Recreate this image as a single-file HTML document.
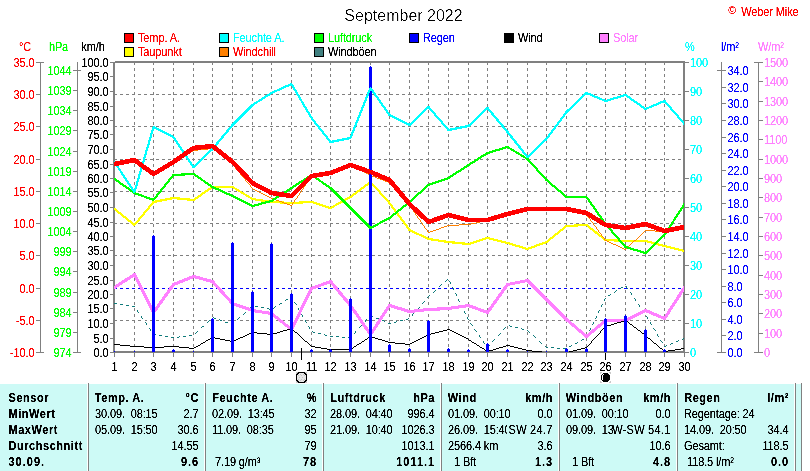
<!DOCTYPE html>
<html lang="de"><head><meta charset="utf-8"><title>September 2022</title>
<style>
html,body{margin:0;padding:0;background:#fff;}
body{width:810px;height:471px;overflow:hidden;}
svg{display:block;font-family:"Liberation Sans",sans-serif;font-size:11px;}
.g{stroke:#808080;stroke-width:1;fill:none;}
.b{font-weight:bold;letter-spacing:0.55px;}
.r{letter-spacing:-0.12px;}
.e{text-anchor:end;}
.m{text-anchor:middle;}
text{filter:url(#t);}
</style></head><body>
<svg width="810" height="471" viewBox="0 0 810 471" shape-rendering="crispEdges">
<defs>
<filter id="t" x="-5%" y="-20%" width="110%" height="140%" color-interpolation-filters="sRGB"><feComponentTransfer><feFuncA type="table" tableValues="0 0 0.3 0.85 1 1 1"/></feComponentTransfer></filter>
<filter id="t2" x="-5%" y="-20%" width="110%" height="140%" color-interpolation-filters="sRGB"><feComponentTransfer><feFuncA type="table" tableValues="0 0 0 0 0.2 0.8 1 1"/></feComponentTransfer></filter>
<clipPath id="c"><rect x="114" y="62" width="570" height="290"/></clipPath>
</defs>
<rect x="0" y="0" width="810" height="471" fill="#ffffff"/>
<text x="403.5" y="21" class="m" fill="#000" font-size="16" style="filter:url(#t2)">September 2022</text>
<text x="728.3" y="14.3" fill="#ff0000" font-size="10.5">©</text>
<text transform="translate(798.5 16) scale(1 1.1)" class="e r" fill="#ff0000">Weber Mike</text>
<rect x="124.5" y="33.5" width="9" height="9" fill="#ff0000" stroke="#000" stroke-width="1"/>
<text transform="translate(138 42) scale(1 1.1)" class="r" fill="#ff0000">Temp. A.</text>
<rect x="124.5" y="47.5" width="9" height="9" fill="#ffff00" stroke="#000" stroke-width="1"/>
<text transform="translate(138 56) scale(1 1.1)" class="r" fill="#ff0000">Taupunkt</text>
<rect x="219.5" y="33.5" width="9" height="9" fill="#00ffff" stroke="#000" stroke-width="1"/>
<text transform="translate(233 42) scale(1 1.1)" class="r" fill="#00ffff">Feuchte A.</text>
<rect x="219.5" y="47.5" width="9" height="9" fill="#ff8000" stroke="#000" stroke-width="1"/>
<text transform="translate(233 56) scale(1 1.1)" class="r" fill="#ff0000">Windchill</text>
<rect x="314.5" y="33.5" width="9" height="9" fill="#00ff00" stroke="#000" stroke-width="1"/>
<text transform="translate(328 42) scale(1 1.1)" class="r" fill="#00ff00">Luftdruck</text>
<rect x="314.5" y="47.5" width="9" height="9" fill="#408080" stroke="#000" stroke-width="1"/>
<text transform="translate(328 56) scale(1 1.1)" class="r" fill="#000000">Windböen</text>
<rect x="409.5" y="33.5" width="9" height="9" fill="#0000ff" stroke="#000" stroke-width="1"/>
<text transform="translate(423 42) scale(1 1.1)" class="r" fill="#0000ff">Regen</text>
<rect x="504.5" y="33.5" width="9" height="9" fill="#000000" stroke="#000" stroke-width="1"/>
<text transform="translate(518 42) scale(1 1.1)" class="r" fill="#000000">Wind</text>
<rect x="599.5" y="33.5" width="9" height="9" fill="#ff80ff" stroke="#000" stroke-width="1"/>
<text transform="translate(613 42) scale(1 1.1)" class="r" fill="#ff80ff">Solar</text>
<g class="g" stroke-dasharray="3 3">
<line x1="134.5" y1="62" x2="134.5" y2="351"/>
<line x1="153.5" y1="62" x2="153.5" y2="351"/>
<line x1="173.5" y1="62" x2="173.5" y2="351"/>
<line x1="193.5" y1="62" x2="193.5" y2="351"/>
<line x1="212.5" y1="62" x2="212.5" y2="351"/>
<line x1="232.5" y1="62" x2="232.5" y2="351"/>
<line x1="252.5" y1="62" x2="252.5" y2="351"/>
<line x1="271.5" y1="62" x2="271.5" y2="351"/>
<line x1="291.5" y1="62" x2="291.5" y2="351"/>
<line x1="311.5" y1="62" x2="311.5" y2="351"/>
<line x1="330.5" y1="62" x2="330.5" y2="351"/>
<line x1="350.5" y1="62" x2="350.5" y2="351"/>
<line x1="370.5" y1="62" x2="370.5" y2="351"/>
<line x1="389.5" y1="62" x2="389.5" y2="351"/>
<line x1="409.5" y1="62" x2="409.5" y2="351"/>
<line x1="428.5" y1="62" x2="428.5" y2="351"/>
<line x1="448.5" y1="62" x2="448.5" y2="351"/>
<line x1="468.5" y1="62" x2="468.5" y2="351"/>
<line x1="487.5" y1="62" x2="487.5" y2="351"/>
<line x1="507.5" y1="62" x2="507.5" y2="351"/>
<line x1="527.5" y1="62" x2="527.5" y2="351"/>
<line x1="546.5" y1="62" x2="546.5" y2="351"/>
<line x1="566.5" y1="62" x2="566.5" y2="351"/>
<line x1="586.5" y1="62" x2="586.5" y2="351"/>
<line x1="605.5" y1="62" x2="605.5" y2="351"/>
<line x1="625.5" y1="62" x2="625.5" y2="351"/>
<line x1="645.5" y1="62" x2="645.5" y2="351"/>
<line x1="664.5" y1="62" x2="664.5" y2="351"/>
<line x1="114" y1="94.5" x2="683" y2="94.5"/>
<line x1="114" y1="126.5" x2="683" y2="126.5"/>
<line x1="114" y1="159.5" x2="683" y2="159.5"/>
<line x1="114" y1="191.5" x2="683" y2="191.5"/>
<line x1="114" y1="223.5" x2="683" y2="223.5"/>
<line x1="114" y1="255.5" x2="683" y2="255.5"/>
<line x1="114" y1="320.5" x2="683" y2="320.5"/>
</g>
<line x1="114" y1="288.5" x2="683" y2="288.5" stroke="#0000ff" stroke-width="1" stroke-dasharray="3 3"/>
<g fill="#808080">
<rect x="113" y="62" width="2" height="291"/>
<rect x="115" y="61" width="570" height="1"/>
<rect x="113" y="62" width="572" height="1"/>
<rect x="683" y="61" width="2" height="292"/>
<rect x="113" y="351" width="572" height="2"/>
</g>
<g clip-path="url(#c)" fill="none" stroke-linejoin="round" stroke-linecap="round">
<path d="M448 278.5h1M448 279.5h1M449 280.5h1M444 282.5h1M442 283.5h2M451 284.5h1M451 285.5h1M625 285.5h1M452 286.5h1M623 286.5h2M438 287.5h1M437 288.5h1M436 289.5h1M618 289.5h2M628 289.5h1M454 290.5h1M617 290.5h1M628 290.5h1M454 291.5h1M629 291.5h1M432 292.5h1M455 292.5h1M613 292.5h1M431 293.5h1M611 293.5h2M430 294.5h1M632 295.5h1M457 296.5h1M606 296.5h2M633 296.5h1M289 297.5h2M457 297.5h1M605 297.5h1M633 297.5h1M288 298.5h1M426 298.5h1M458 298.5h1M293 299.5h1M425 299.5h1M293 300.5h1M425 300.5h1M283 301.5h2M294 301.5h1M603 301.5h1M636 301.5h1M282 302.5h1M459 302.5h1M603 302.5h1M637 302.5h1M117 303.5h1M460 303.5h1M602 303.5h1M637 303.5h1M118 304.5h2M123 304.5h2M278 304.5h1M421 304.5h1M460 304.5h1M125 305.5h1M129 305.5h2M252 305.5h3M277 305.5h1M296 305.5h1M420 305.5h1M131 306.5h1M258 306.5h2M276 306.5h1M297 306.5h1M419 306.5h1M135 307.5h1M260 307.5h1M297 307.5h1M600 307.5h1M640 307.5h1M135 308.5h1M264 308.5h3M272 308.5h1M462 308.5h1M600 308.5h1M641 308.5h1M136 309.5h1M248 309.5h1M270 309.5h2M463 309.5h1M599 309.5h1M642 309.5h1M247 310.5h1M416 310.5h1M463 310.5h1M246 311.5h1M300 311.5h1M415 311.5h1M300 312.5h1M414 312.5h1M139 313.5h1M301 313.5h1M597 313.5h1M644 313.5h1M139 314.5h1M465 314.5h1M597 314.5h1M645 314.5h1M140 315.5h1M241 315.5h2M466 315.5h1M596 315.5h1M646 315.5h1M240 316.5h1M369 316.5h1M373 316.5h1M411 316.5h1M466 316.5h1M212 317.5h1M303 317.5h1M368 317.5h1M374 317.5h2M410 317.5h1M211 318.5h1M216 318.5h1M304 318.5h1M367 318.5h1M409 318.5h1M143 319.5h1M210 319.5h1M217 319.5h2M304 319.5h1M379 319.5h2M404 319.5h2M595 319.5h1M648 319.5h1M144 320.5h1M222 320.5h1M236 320.5h1M381 320.5h1M403 320.5h1M468 320.5h1M594 320.5h1M649 320.5h1M144 321.5h1M223 321.5h2M235 321.5h1M385 321.5h1M397 321.5h3M469 321.5h1M594 321.5h1M649 321.5h1M234 322.5h1M364 322.5h1M386 322.5h2M392 322.5h2M469 322.5h1M206 323.5h1M228 323.5h3M306 323.5h1M363 323.5h1M391 323.5h1M205 324.5h1M307 324.5h1M362 324.5h1M147 325.5h1M204 325.5h1M308 325.5h1M507 325.5h2M592 325.5h1M652 325.5h1M148 326.5h1M472 326.5h1M506 326.5h1M512 326.5h2M591 326.5h1M652 326.5h1M148 327.5h1M473 327.5h1M514 327.5h1M591 327.5h1M653 327.5h1M200 328.5h1M358 328.5h1M474 328.5h1M518 328.5h3M199 329.5h1M310 329.5h1M357 329.5h1M524 329.5h2M198 330.5h1M310 330.5h1M356 330.5h1M502 330.5h1M526 330.5h1M151 331.5h1M311 331.5h1M502 331.5h1M589 331.5h1M655 331.5h1M152 332.5h1M315 332.5h2M476 332.5h1M501 332.5h1M588 332.5h1M656 332.5h1M152 333.5h1M317 333.5h1M477 333.5h1M530 333.5h1M588 333.5h1M656 333.5h1M156 334.5h1M194 334.5h1M321 334.5h3M353 334.5h1M478 334.5h1M531 334.5h2M157 335.5h2M162 335.5h2M192 335.5h2M327 335.5h2M352 335.5h1M164 336.5h1M168 336.5h2M180 336.5h3M186 336.5h3M329 336.5h1M333 336.5h3M339 336.5h2M351 336.5h1M497 336.5h1M170 337.5h1M174 337.5h3M341 337.5h1M345 337.5h3M496 337.5h1M586 337.5h1M659 337.5h1M481 338.5h1M495 338.5h1M536 338.5h1M584 338.5h2M659 338.5h1M481 339.5h1M537 339.5h1M660 339.5h1M681 339.5h1M482 340.5h1M538 340.5h1M580 340.5h1M679 340.5h2M578 341.5h2M492 342.5h1M673 342.5h3M491 343.5h1M542 343.5h1M662 343.5h1M485 344.5h1M490 344.5h1M543 344.5h1M573 344.5h2M663 344.5h1M668 344.5h2M486 345.5h1M544 345.5h1M572 345.5h1M663 345.5h1M667 345.5h1M486 346.5h1M548 347.5h3M554 347.5h3M567 347.5h2M560 348.5h3M566 348.5h1" stroke="#ffffff" stroke-width="1" stroke-linecap="butt"/>
<path d="M447 279.5h1M446 280.5h1M445 281.5h1M449 281.5h1M450 282.5h1M450 283.5h1M441 284.5h1M440 285.5h1M439 286.5h1M626 286.5h1M452 287.5h1M621 287.5h2M626 287.5h1M453 288.5h1M620 288.5h1M627 288.5h1M453 289.5h1M435 290.5h1M616 290.5h1M434 291.5h1M615 291.5h1M433 292.5h1M614 292.5h1M630 292.5h1M455 293.5h1M631 293.5h1M456 294.5h1M610 294.5h1M631 294.5h1M429 295.5h1M456 295.5h1M608 295.5h2M291 296.5h1M428 296.5h1M292 297.5h1M427 297.5h1M292 298.5h1M605 298.5h1M634 298.5h1M286 299.5h2M458 299.5h1M604 299.5h1M635 299.5h1M285 300.5h1M458 300.5h1M604 300.5h1M635 300.5h1M424 301.5h1M459 301.5h1M294 302.5h1M423 302.5h1M114 303.5h3M280 303.5h2M295 303.5h1M422 303.5h1M120 304.5h3M279 304.5h1M296 304.5h1M602 304.5h1M638 304.5h1M126 305.5h3M461 305.5h1M601 305.5h1M639 305.5h1M132 306.5h3M251 306.5h1M255 306.5h3M275 306.5h1M461 306.5h1M601 306.5h1M639 306.5h1M250 307.5h1M261 307.5h3M274 307.5h1M419 307.5h1M462 307.5h1M249 308.5h1M267 308.5h2M273 308.5h1M298 308.5h1M418 308.5h1M269 309.5h1M298 309.5h1M417 309.5h1M137 310.5h1M299 310.5h1M599 310.5h1M642 310.5h1M137 311.5h1M464 311.5h1M598 311.5h1M643 311.5h1M138 312.5h1M245 312.5h1M464 312.5h1M598 312.5h1M644 312.5h1M244 313.5h1M413 313.5h1M465 313.5h1M243 314.5h1M301 314.5h1M412 314.5h1M302 315.5h1M370 315.5h2M412 315.5h1M141 316.5h1M302 316.5h1M372 316.5h1M596 316.5h1M646 316.5h1M141 317.5h1M213 317.5h1M239 317.5h1M467 317.5h1M596 317.5h1M647 317.5h1M142 318.5h1M214 318.5h2M238 318.5h1M376 318.5h3M408 318.5h1M467 318.5h1M595 318.5h1M647 318.5h1M219 319.5h1M237 319.5h1M366 319.5h1M406 319.5h2M468 319.5h1M209 320.5h1M220 320.5h2M305 320.5h1M365 320.5h1M382 320.5h2M400 320.5h3M208 321.5h1M305 321.5h1M365 321.5h1M384 321.5h1M396 321.5h1M145 322.5h1M207 322.5h1M225 322.5h3M306 322.5h1M394 322.5h2M593 322.5h1M650 322.5h1M146 323.5h1M233 323.5h1M388 323.5h3M470 323.5h1M593 323.5h1M650 323.5h1M146 324.5h1M231 324.5h2M471 324.5h1M592 324.5h1M651 324.5h1M361 325.5h1M472 325.5h1M509 325.5h1M202 326.5h2M308 326.5h1M360 326.5h1M510 326.5h2M201 327.5h1M309 327.5h1M359 327.5h1M505 327.5h1M515 327.5h3M149 328.5h1M309 328.5h1M504 328.5h1M521 328.5h1M590 328.5h1M653 328.5h1M150 329.5h1M474 329.5h1M503 329.5h1M522 329.5h2M590 329.5h1M654 329.5h1M150 330.5h1M475 330.5h1M527 330.5h1M589 330.5h1M655 330.5h1M197 331.5h1M312 331.5h1M355 331.5h1M476 331.5h1M528 331.5h1M196 332.5h1M313 332.5h2M355 332.5h1M529 332.5h1M195 333.5h1M318 333.5h3M354 333.5h1M500 333.5h1M153 334.5h3M324 334.5h1M499 334.5h1M587 334.5h1M657 334.5h1M159 335.5h3M189 335.5h3M325 335.5h2M479 335.5h1M498 335.5h1M533 335.5h1M587 335.5h1M657 335.5h1M165 336.5h3M179 336.5h1M183 336.5h3M330 336.5h3M336 336.5h3M479 336.5h1M534 336.5h1M586 336.5h1M658 336.5h1M171 337.5h3M177 337.5h2M342 337.5h3M348 337.5h3M480 337.5h1M535 337.5h1M683 338.5h2M494 339.5h1M582 339.5h2M682 339.5h1M493 340.5h1M581 340.5h1M660 340.5h1M678 340.5h1M483 341.5h1M492 341.5h1M539 341.5h1M661 341.5h1M676 341.5h2M483 342.5h1M540 342.5h1M577 342.5h1M662 342.5h1M484 343.5h1M541 343.5h1M575 343.5h2M671 343.5h2M670 344.5h1M489 345.5h1M571 345.5h1M666 345.5h1M488 346.5h1M545 346.5h1M569 346.5h2M664 346.5h2M487 347.5h1M546 347.5h2M551 347.5h3M557 348.5h3M563 348.5h3" stroke="#0f7a7a" stroke-width="1" stroke-linecap="butt"/>
<polyline points="114.5,287.5 134.5,274.5 153.5,312.5 173.5,284.5 193.5,276.5 212.5,281.5 232.5,303.5 252.5,310.5 271.5,313.5 291.5,329.5 311.5,288.5 330.5,281.5 350.5,305.5 370.5,334.5 389.5,305.5 409.5,311.5 428.5,309.5 448.5,308.5 468.5,305.5 487.5,312.5 507.5,284.5 527.5,280.5 546.5,299.5 566.5,319.5 586.5,336.5 605.5,320.5 625.5,320.5 645.5,310.5 664.5,318.5 684.5,287.5" stroke="#ff80ff" stroke-width="3.1"/>
<path d="M624 320.5h2M621 321.5h3M626 321.5h2M617 322.5h4M628 322.5h1M614 323.5h3M629 323.5h1M611 324.5h3M630 324.5h2M607 325.5h4M632 325.5h1M605 326.5h2M633 326.5h1M604 327.5h1M634 327.5h2M290 328.5h2M603 328.5h1M636 328.5h1M287 329.5h3M292 329.5h1M447 329.5h3M602 329.5h1M637 329.5h1M283 330.5h4M293 330.5h1M443 330.5h4M450 330.5h2M601 330.5h1M638 330.5h2M280 331.5h3M294 331.5h1M439 331.5h4M452 331.5h2M600 331.5h1M640 331.5h1M251 332.5h6M277 332.5h3M295 332.5h2M435 332.5h4M454 332.5h2M600 332.5h1M641 332.5h1M249 333.5h2M257 333.5h10M273 333.5h4M297 333.5h1M431 333.5h4M456 333.5h2M599 333.5h1M642 333.5h2M247 334.5h2M267 334.5h6M298 334.5h1M428 334.5h3M458 334.5h2M598 334.5h1M644 334.5h1M245 335.5h2M299 335.5h1M426 335.5h2M460 335.5h2M597 335.5h1M645 335.5h1M243 336.5h2M300 336.5h1M370 336.5h2M424 336.5h2M462 336.5h2M596 336.5h1M646 336.5h1M212 337.5h3M240 337.5h3M301 337.5h1M368 337.5h2M372 337.5h3M422 337.5h2M464 337.5h2M595 337.5h1M647 337.5h1M210 338.5h2M215 338.5h5M238 338.5h2M302 338.5h1M367 338.5h1M375 338.5h3M420 338.5h2M466 338.5h2M594 338.5h1M648 338.5h2M208 339.5h2M220 339.5h5M236 339.5h2M303 339.5h1M365 339.5h2M378 339.5h4M418 339.5h2M468 339.5h1M593 339.5h1M650 339.5h1M206 340.5h2M225 340.5h5M234 340.5h2M304 340.5h1M364 340.5h1M382 340.5h3M416 340.5h2M469 340.5h2M592 340.5h1M651 340.5h1M205 341.5h1M230 341.5h4M305 341.5h2M362 341.5h2M385 341.5h3M414 341.5h2M471 341.5h1M591 341.5h1M652 341.5h1M203 342.5h2M307 342.5h1M361 342.5h1M388 342.5h7M412 342.5h2M472 342.5h2M591 342.5h1M653 342.5h1M201 343.5h2M308 343.5h1M359 343.5h2M395 343.5h10M410 343.5h2M474 343.5h2M590 343.5h1M654 343.5h2M114 344.5h6M200 344.5h1M309 344.5h1M357 344.5h2M405 344.5h5M476 344.5h1M589 344.5h1M656 344.5h1M120 345.5h10M198 345.5h2M310 345.5h1M356 345.5h1M477 345.5h2M506 345.5h4M588 345.5h1M657 345.5h1M130 346.5h14M164 346.5h15M196 346.5h2M311 346.5h4M354 346.5h2M479 346.5h1M503 346.5h3M510 346.5h4M587 346.5h1M658 346.5h1M144 347.5h20M179 347.5h10M194 347.5h2M315 347.5h6M353 347.5h1M480 347.5h2M499 347.5h4M514 347.5h4M585 347.5h2M659 347.5h1M189 348.5h5M321 348.5h6M351 348.5h2M482 348.5h2M496 348.5h3M518 348.5h4M581 348.5h4M660 348.5h2M681 348.5h4M327 349.5h24M484 349.5h1M493 349.5h3M522 349.5h4M577 349.5h4M662 349.5h1M675 349.5h6M485 350.5h2M489 350.5h4M526 350.5h6M573 350.5h4M663 350.5h1M668 350.5h7M487 351.5h2M532 351.5h10M569 351.5h4M664 351.5h4M542 352.5h27" stroke="#000000" stroke-width="1" stroke-linecap="butt"/>
<polyline points="114.5,209 134.5,225 153.5,202 173.5,198 193.5,200 212.5,187 232.5,187 252.5,199 271.5,202 291.5,203 311.5,202 330.5,208 350.5,197 370.5,182 389.5,203 409.5,230 428.5,239 448.5,242 468.5,244 487.5,238 507.5,243 527.5,249 546.5,242 566.5,226 586.5,225 605.5,240 625.5,241 645.5,241 664.5,246 684.5,251" stroke="#ffff00" stroke-width="2.2"/>
<path d="M208 148.5h5M198 149.5h10M213 149.5h1M193 150.5h5M214 150.5h2M191 151.5h2M216 151.5h1M189 152.5h2M217 152.5h1M187 153.5h2M218 153.5h1M185 154.5h2M219 154.5h2M184 155.5h1M221 155.5h1M182 156.5h2M222 156.5h1M180 157.5h2M223 157.5h1M178 158.5h2M224 158.5h2M176 159.5h2M226 159.5h1M132 160.5h3M174 160.5h2M227 160.5h1M127 161.5h5M135 161.5h2M173 161.5h1M228 161.5h1M122 162.5h5M137 162.5h1M171 162.5h2M229 162.5h2M117 163.5h5M138 163.5h1M170 163.5h1M231 163.5h1M114 164.5h3M139 164.5h2M168 164.5h2M232 164.5h1M141 165.5h1M167 165.5h1M233 165.5h1M349 165.5h3M142 166.5h1M165 166.5h2M234 166.5h1M347 166.5h2M352 166.5h2M143 167.5h2M164 167.5h1M235 167.5h1M344 167.5h3M354 167.5h2M145 168.5h1M162 168.5h2M235 168.5h1M342 168.5h2M356 168.5h2M146 169.5h1M160 169.5h2M236 169.5h1M339 169.5h3M358 169.5h2M147 170.5h2M159 170.5h1M237 170.5h1M337 170.5h2M360 170.5h2M149 171.5h1M157 171.5h2M238 171.5h1M334 171.5h3M362 171.5h2M150 172.5h1M156 172.5h1M239 172.5h1M332 172.5h2M364 172.5h2M151 173.5h2M154 173.5h2M240 173.5h1M327 173.5h5M366 173.5h2M153 174.5h1M240 174.5h1M321 174.5h6M368 174.5h2M241 175.5h1M315 175.5h6M370 175.5h2M242 176.5h1M311 176.5h4M372 176.5h3M243 177.5h1M310 177.5h1M375 177.5h2M244 178.5h1M310 178.5h1M377 178.5h3M245 179.5h1M309 179.5h1M380 179.5h3M245 180.5h1M308 180.5h1M383 180.5h2M246 181.5h1M308 181.5h1M385 181.5h3M247 182.5h1M307 182.5h1M388 182.5h2M248 183.5h1M306 183.5h1M390 183.5h1M249 184.5h1M305 184.5h1M391 184.5h1M250 185.5h1M305 185.5h1M392 185.5h1M250 186.5h1M304 186.5h1M392 186.5h1M251 187.5h1M303 187.5h1M393 187.5h1M252 188.5h1M303 188.5h1M394 188.5h1M253 189.5h2M302 189.5h1M395 189.5h1M255 190.5h2M301 190.5h1M396 190.5h1M257 191.5h2M301 191.5h1M397 191.5h1M259 192.5h2M300 192.5h1M398 192.5h1M261 193.5h2M299 193.5h1M399 193.5h1M263 194.5h2M299 194.5h1M399 194.5h1M265 195.5h2M298 195.5h1M400 195.5h1M267 196.5h2M297 196.5h1M401 196.5h1M269 197.5h2M297 197.5h1M402 197.5h1M271 198.5h2M296 198.5h1M403 198.5h1M273 199.5h3M295 199.5h1M404 199.5h1M276 200.5h3M294 200.5h1M405 200.5h1M279 201.5h3M294 201.5h1M406 201.5h1M282 202.5h2M293 202.5h1M406 202.5h1M284 203.5h3M292 203.5h1M407 203.5h1M287 204.5h3M292 204.5h1M408 204.5h1M290 205.5h2M409 205.5h1M410 206.5h1M410 207.5h1M411 208.5h1M412 209.5h1M525 209.5h44M413 210.5h1M520 210.5h5M569 210.5h4M413 211.5h1M515 211.5h5M573 211.5h4M414 212.5h1M510 212.5h5M577 212.5h4M415 213.5h1M506 213.5h4M581 213.5h4M415 214.5h1M503 214.5h3M585 214.5h2M416 215.5h1M500 215.5h3M587 215.5h1M417 216.5h1M498 216.5h2M587 216.5h1M417 217.5h1M495 217.5h3M588 217.5h1M418 218.5h1M492 218.5h3M589 218.5h1M419 219.5h1M489 219.5h3M590 219.5h1M420 220.5h1M485 220.5h4M590 220.5h1M420 221.5h1M480 221.5h5M591 221.5h1M421 222.5h1M476 222.5h4M592 222.5h1M422 223.5h1M471 223.5h5M593 223.5h1M422 224.5h1M459 224.5h12M593 224.5h1M423 225.5h1M447 225.5h12M594 225.5h1M424 226.5h1M444 226.5h3M595 226.5h1M683 226.5h2M424 227.5h1M441 227.5h3M596 227.5h1M679 227.5h4M425 228.5h1M439 228.5h2M596 228.5h1M675 228.5h4M426 229.5h1M436 229.5h3M597 229.5h1M671 229.5h4M427 230.5h1M433 230.5h3M598 230.5h1M645 230.5h10M667 230.5h4M427 231.5h1M430 231.5h3M598 231.5h1M644 231.5h1M655 231.5h12M428 232.5h2M599 232.5h1M643 232.5h1M600 233.5h1M642 233.5h1M601 234.5h1M641 234.5h1M601 235.5h1M640 235.5h1M602 236.5h1M639 236.5h1M603 237.5h1M638 237.5h1M604 238.5h1M637 238.5h1M604 239.5h1M636 239.5h1M605 240.5h2M634 240.5h2M607 241.5h2M633 241.5h1M609 242.5h2M632 242.5h1M611 243.5h2M631 243.5h1M613 244.5h3M630 244.5h1M616 245.5h2M629 245.5h1M618 246.5h2M628 246.5h1M620 247.5h2M627 247.5h1M622 248.5h2M626 248.5h1M624 249.5h2" stroke="#ff8000" stroke-width="1" stroke-linecap="butt"/>
<rect x="114" y="351" width="1" height="1" fill="#0000ff"/>
<rect x="134" y="351" width="1" height="1" fill="#0000ff"/>
<rect x="153" y="235" width="1" height="1" fill="#0000ff"/>
<rect x="152" y="236" width="3" height="116" fill="#0000ff"/>
<rect x="173" y="349" width="1" height="1" fill="#0000ff"/>
<rect x="172" y="350" width="3" height="2" fill="#0000ff"/>
<rect x="193" y="351" width="1" height="1" fill="#0000ff"/>
<rect x="212" y="318" width="1" height="1" fill="#0000ff"/>
<rect x="211" y="319" width="3" height="33" fill="#0000ff"/>
<rect x="232" y="242" width="1" height="1" fill="#0000ff"/>
<rect x="231" y="243" width="3" height="109" fill="#0000ff"/>
<rect x="252" y="291" width="1" height="1" fill="#0000ff"/>
<rect x="251" y="292" width="3" height="60" fill="#0000ff"/>
<rect x="271" y="243" width="1" height="1" fill="#0000ff"/>
<rect x="270" y="244" width="3" height="108" fill="#0000ff"/>
<rect x="291" y="293" width="1" height="1" fill="#0000ff"/>
<rect x="290" y="294" width="3" height="58" fill="#0000ff"/>
<rect x="311" y="349" width="1" height="1" fill="#0000ff"/>
<rect x="310" y="350" width="3" height="2" fill="#0000ff"/>
<rect x="330" y="349" width="1" height="1" fill="#0000ff"/>
<rect x="329" y="350" width="3" height="2" fill="#0000ff"/>
<rect x="350" y="298" width="1" height="1" fill="#0000ff"/>
<rect x="349" y="299" width="3" height="53" fill="#0000ff"/>
<rect x="370" y="66" width="1" height="1" fill="#0000ff"/>
<rect x="369" y="67" width="3" height="285" fill="#0000ff"/>
<rect x="389" y="344" width="1" height="1" fill="#0000ff"/>
<rect x="388" y="345" width="3" height="7" fill="#0000ff"/>
<rect x="409" y="348" width="1" height="1" fill="#0000ff"/>
<rect x="408" y="349" width="3" height="3" fill="#0000ff"/>
<rect x="428" y="320" width="1" height="1" fill="#0000ff"/>
<rect x="427" y="321" width="3" height="31" fill="#0000ff"/>
<rect x="448" y="348" width="1" height="1" fill="#0000ff"/>
<rect x="447" y="349" width="3" height="3" fill="#0000ff"/>
<rect x="468" y="349" width="1" height="1" fill="#0000ff"/>
<rect x="467" y="350" width="3" height="2" fill="#0000ff"/>
<rect x="487" y="343" width="1" height="1" fill="#0000ff"/>
<rect x="486" y="344" width="3" height="8" fill="#0000ff"/>
<rect x="507" y="349" width="1" height="1" fill="#0000ff"/>
<rect x="506" y="350" width="3" height="2" fill="#0000ff"/>
<rect x="527" y="351" width="1" height="1" fill="#0000ff"/>
<rect x="546" y="351" width="1" height="1" fill="#0000ff"/>
<rect x="566" y="348" width="1" height="1" fill="#0000ff"/>
<rect x="565" y="349" width="3" height="3" fill="#0000ff"/>
<rect x="586" y="348" width="1" height="1" fill="#0000ff"/>
<rect x="585" y="349" width="3" height="3" fill="#0000ff"/>
<rect x="605" y="318" width="1" height="1" fill="#0000ff"/>
<rect x="604" y="319" width="3" height="33" fill="#0000ff"/>
<rect x="625" y="315" width="1" height="1" fill="#0000ff"/>
<rect x="624" y="316" width="3" height="36" fill="#0000ff"/>
<rect x="645" y="329" width="1" height="1" fill="#0000ff"/>
<rect x="644" y="330" width="3" height="22" fill="#0000ff"/>
<rect x="664" y="349" width="1" height="1" fill="#0000ff"/>
<rect x="663" y="350" width="3" height="2" fill="#0000ff"/>
<polyline points="114.5,179 134.5,193 153.5,200 173.5,175 193.5,174 212.5,187 232.5,196 252.5,206 271.5,201 291.5,188 311.5,175 330.5,188 350.5,208 370.5,228 389.5,218 409.5,202 428.5,185 448.5,178 468.5,165 487.5,153 507.5,147 527.5,159 546.5,180 566.5,197 586.5,197 605.5,224 625.5,247 645.5,253 664.5,235 684.5,204" stroke="#00ff00" stroke-width="2.2"/>
<polyline points="114.5,162 134.5,192 153.5,127 173.5,137 193.5,167 212.5,149 232.5,125 252.5,105 271.5,93 291.5,84 311.5,118 330.5,142 350.5,138 370.5,88 389.5,115 409.5,125 428.5,107 448.5,130 468.5,126 487.5,108 507.5,132 527.5,157 546.5,139 566.5,112 586.5,93 605.5,101 625.5,95 645.5,109 664.5,101 684.5,124" stroke="#00ffff" stroke-width="2.2"/>
<polyline points="114.5,164 134.5,160 153.5,174 173.5,162 193.5,148 212.5,146 232.5,162 252.5,183 271.5,193 291.5,196 311.5,176 330.5,173 350.5,165 370.5,172 389.5,180 409.5,204 428.5,222 448.5,215 468.5,220 487.5,220 507.5,214 527.5,209 546.5,209 566.5,209 586.5,213 605.5,225 625.5,228 645.5,224 664.5,231 684.5,227" stroke="#ff0000" stroke-width="4.6"/>
</g>
<g class="g">
<line x1="114.5" y1="353" x2="114.5" y2="357"/>
<line x1="134.5" y1="353" x2="134.5" y2="357"/>
<line x1="153.5" y1="353" x2="153.5" y2="357"/>
<line x1="173.5" y1="353" x2="173.5" y2="357"/>
<line x1="193.5" y1="353" x2="193.5" y2="357"/>
<line x1="212.5" y1="353" x2="212.5" y2="357"/>
<line x1="232.5" y1="353" x2="232.5" y2="357"/>
<line x1="252.5" y1="353" x2="252.5" y2="357"/>
<line x1="271.5" y1="353" x2="271.5" y2="357"/>
<line x1="291.5" y1="353" x2="291.5" y2="357"/>
<line x1="311.5" y1="353" x2="311.5" y2="357"/>
<line x1="330.5" y1="353" x2="330.5" y2="357"/>
<line x1="350.5" y1="353" x2="350.5" y2="357"/>
<line x1="370.5" y1="353" x2="370.5" y2="357"/>
<line x1="389.5" y1="353" x2="389.5" y2="357"/>
<line x1="409.5" y1="353" x2="409.5" y2="357"/>
<line x1="428.5" y1="353" x2="428.5" y2="357"/>
<line x1="448.5" y1="353" x2="448.5" y2="357"/>
<line x1="468.5" y1="353" x2="468.5" y2="357"/>
<line x1="487.5" y1="353" x2="487.5" y2="357"/>
<line x1="507.5" y1="353" x2="507.5" y2="357"/>
<line x1="527.5" y1="353" x2="527.5" y2="357"/>
<line x1="546.5" y1="353" x2="546.5" y2="357"/>
<line x1="566.5" y1="353" x2="566.5" y2="357"/>
<line x1="586.5" y1="353" x2="586.5" y2="357"/>
<line x1="605.5" y1="353" x2="605.5" y2="357"/>
<line x1="625.5" y1="353" x2="625.5" y2="357"/>
<line x1="645.5" y1="353" x2="645.5" y2="357"/>
<line x1="664.5" y1="353" x2="664.5" y2="357"/>
<line x1="684.5" y1="353" x2="684.5" y2="357"/>
</g>
<g fill="#000">
<text transform="translate(114.5 371) scale(1 1.1)" class="m r">1</text>
<text transform="translate(134.5 371) scale(1 1.1)" class="m r">2</text>
<text transform="translate(153.5 371) scale(1 1.1)" class="m r">3</text>
<text transform="translate(173.5 371) scale(1 1.1)" class="m r">4</text>
<text transform="translate(193.5 371) scale(1 1.1)" class="m r">5</text>
<text transform="translate(212.5 371) scale(1 1.1)" class="m r">6</text>
<text transform="translate(232.5 371) scale(1 1.1)" class="m r">7</text>
<text transform="translate(252.5 371) scale(1 1.1)" class="m r">8</text>
<text transform="translate(271.5 371) scale(1 1.1)" class="m r">9</text>
<text transform="translate(291.5 371) scale(1 1.1)" class="m r">10</text>
<text transform="translate(311.5 371) scale(1 1.1)" class="m r">11</text>
<text transform="translate(330.5 371) scale(1 1.1)" class="m r">12</text>
<text transform="translate(350.5 371) scale(1 1.1)" class="m r">13</text>
<text transform="translate(370.5 371) scale(1 1.1)" class="m r">14</text>
<text transform="translate(389.5 371) scale(1 1.1)" class="m r">15</text>
<text transform="translate(409.5 371) scale(1 1.1)" class="m r">16</text>
<text transform="translate(428.5 371) scale(1 1.1)" class="m r">17</text>
<text transform="translate(448.5 371) scale(1 1.1)" class="m r">18</text>
<text transform="translate(468.5 371) scale(1 1.1)" class="m r">19</text>
<text transform="translate(487.5 371) scale(1 1.1)" class="m r">20</text>
<text transform="translate(507.5 371) scale(1 1.1)" class="m r">21</text>
<text transform="translate(527.5 371) scale(1 1.1)" class="m r">22</text>
<text transform="translate(546.5 371) scale(1 1.1)" class="m r">23</text>
<text transform="translate(566.5 371) scale(1 1.1)" class="m r">24</text>
<text transform="translate(586.5 371) scale(1 1.1)" class="m r">25</text>
<text transform="translate(605.5 371) scale(1 1.1)" class="m r">26</text>
<text transform="translate(625.5 371) scale(1 1.1)" class="m r">27</text>
<text transform="translate(645.5 371) scale(1 1.1)" class="m r">28</text>
<text transform="translate(664.5 371) scale(1 1.1)" class="m r">29</text>
<text transform="translate(684.5 371) scale(1 1.1)" class="m r">30</text>
</g>
<g class="g">
<line x1="110" y1="352.5" x2="113" y2="352.5"/>
<line x1="110" y1="338.5" x2="113" y2="338.5"/>
<line x1="110" y1="323.5" x2="113" y2="323.5"/>
<line x1="110" y1="308.5" x2="113" y2="308.5"/>
<line x1="110" y1="294.5" x2="113" y2="294.5"/>
<line x1="110" y1="280.5" x2="113" y2="280.5"/>
<line x1="110" y1="265.5" x2="113" y2="265.5"/>
<line x1="110" y1="250.5" x2="113" y2="250.5"/>
<line x1="110" y1="236.5" x2="113" y2="236.5"/>
<line x1="110" y1="222.5" x2="113" y2="222.5"/>
<line x1="110" y1="207.5" x2="113" y2="207.5"/>
<line x1="110" y1="192.5" x2="113" y2="192.5"/>
<line x1="110" y1="178.5" x2="113" y2="178.5"/>
<line x1="110" y1="164.5" x2="113" y2="164.5"/>
<line x1="110" y1="149.5" x2="113" y2="149.5"/>
<line x1="110" y1="134.5" x2="113" y2="134.5"/>
<line x1="110" y1="120.5" x2="113" y2="120.5"/>
<line x1="110" y1="106.5" x2="113" y2="106.5"/>
<line x1="110" y1="91.5" x2="113" y2="91.5"/>
<line x1="110" y1="76.5" x2="113" y2="76.5"/>
<line x1="110" y1="62.5" x2="113" y2="62.5"/>
</g>
<g fill="#000">
<text transform="translate(108.5 357) scale(1 1.1)" class="e r">0.0</text>
<text transform="translate(108.5 343) scale(1 1.1)" class="e r">5.0</text>
<text transform="translate(108.5 328) scale(1 1.1)" class="e r">10.0</text>
<text transform="translate(108.5 313) scale(1 1.1)" class="e r">15.0</text>
<text transform="translate(108.5 299) scale(1 1.1)" class="e r">20.0</text>
<text transform="translate(108.5 285) scale(1 1.1)" class="e r">25.0</text>
<text transform="translate(108.5 270) scale(1 1.1)" class="e r">30.0</text>
<text transform="translate(108.5 255) scale(1 1.1)" class="e r">35.0</text>
<text transform="translate(108.5 241) scale(1 1.1)" class="e r">40.0</text>
<text transform="translate(108.5 227) scale(1 1.1)" class="e r">45.0</text>
<text transform="translate(108.5 212) scale(1 1.1)" class="e r">50.0</text>
<text transform="translate(108.5 197) scale(1 1.1)" class="e r">55.0</text>
<text transform="translate(108.5 183) scale(1 1.1)" class="e r">60.0</text>
<text transform="translate(108.5 169) scale(1 1.1)" class="e r">65.0</text>
<text transform="translate(108.5 154) scale(1 1.1)" class="e r">70.0</text>
<text transform="translate(108.5 139) scale(1 1.1)" class="e r">75.0</text>
<text transform="translate(108.5 125) scale(1 1.1)" class="e r">80.0</text>
<text transform="translate(108.5 111) scale(1 1.1)" class="e r">85.0</text>
<text transform="translate(108.5 96) scale(1 1.1)" class="e r">90.0</text>
<text transform="translate(108.5 81) scale(1 1.1)" class="e r">95.0</text>
<text transform="translate(108.5 67) scale(1 1.1)" class="e r">100.0</text>
<text transform="translate(93 51) scale(1 1.1)" class="m r">km/h</text>
</g>
<g class="g">
<line x1="77.5" y1="62" x2="77.5" y2="353"/>
<line x1="73" y1="352.5" x2="81" y2="352.5"/>
<line x1="73" y1="332.5" x2="77" y2="332.5"/>
<line x1="73" y1="312.5" x2="77" y2="312.5"/>
<line x1="73" y1="292.5" x2="77" y2="292.5"/>
<line x1="73" y1="271.5" x2="77" y2="271.5"/>
<line x1="73" y1="251.5" x2="77" y2="251.5"/>
<line x1="73" y1="231.5" x2="77" y2="231.5"/>
<line x1="73" y1="211.5" x2="77" y2="211.5"/>
<line x1="73" y1="191.5" x2="77" y2="191.5"/>
<line x1="73" y1="171.5" x2="77" y2="171.5"/>
<line x1="73" y1="151.5" x2="77" y2="151.5"/>
<line x1="73" y1="130.5" x2="77" y2="130.5"/>
<line x1="73" y1="110.5" x2="77" y2="110.5"/>
<line x1="73" y1="90.5" x2="77" y2="90.5"/>
<line x1="73" y1="70.5" x2="81" y2="70.5"/>
</g>
<g fill="#00ff00">
<text transform="translate(71.5 357) scale(1 1.1)" class="e r">974</text>
<text transform="translate(71.5 337) scale(1 1.1)" class="e r">979</text>
<text transform="translate(71.5 317) scale(1 1.1)" class="e r">984</text>
<text transform="translate(71.5 297) scale(1 1.1)" class="e r">989</text>
<text transform="translate(71.5 276) scale(1 1.1)" class="e r">994</text>
<text transform="translate(71.5 256) scale(1 1.1)" class="e r">999</text>
<text transform="translate(71.5 236) scale(1 1.1)" class="e r">1004</text>
<text transform="translate(71.5 216) scale(1 1.1)" class="e r">1009</text>
<text transform="translate(71.5 196) scale(1 1.1)" class="e r">1014</text>
<text transform="translate(71.5 176) scale(1 1.1)" class="e r">1019</text>
<text transform="translate(71.5 156) scale(1 1.1)" class="e r">1024</text>
<text transform="translate(71.5 135) scale(1 1.1)" class="e r">1029</text>
<text transform="translate(71.5 115) scale(1 1.1)" class="e r">1034</text>
<text transform="translate(71.5 95) scale(1 1.1)" class="e r">1039</text>
<text transform="translate(71.5 75) scale(1 1.1)" class="e r">1044</text>
<text transform="translate(58.5 51) scale(1 1.1)" class="m r">hPa</text>
</g>
<g class="g">
<line x1="40.5" y1="62" x2="40.5" y2="353"/>
<line x1="36" y1="62.5" x2="44" y2="62.5"/>
<line x1="36" y1="94.5" x2="40" y2="94.5"/>
<line x1="36" y1="126.5" x2="40" y2="126.5"/>
<line x1="36" y1="159.5" x2="40" y2="159.5"/>
<line x1="36" y1="191.5" x2="40" y2="191.5"/>
<line x1="36" y1="223.5" x2="40" y2="223.5"/>
<line x1="36" y1="255.5" x2="40" y2="255.5"/>
<line x1="36" y1="288.5" x2="40" y2="288.5"/>
<line x1="36" y1="320.5" x2="40" y2="320.5"/>
<line x1="36" y1="352.5" x2="44" y2="352.5"/>
</g>
<g fill="#ff0000">
<text transform="translate(34.5 67) scale(1 1.1)" class="e r">35.0</text>
<text transform="translate(34.5 99) scale(1 1.1)" class="e r">30.0</text>
<text transform="translate(34.5 131) scale(1 1.1)" class="e r">25.0</text>
<text transform="translate(34.5 164) scale(1 1.1)" class="e r">20.0</text>
<text transform="translate(34.5 196) scale(1 1.1)" class="e r">15.0</text>
<text transform="translate(34.5 228) scale(1 1.1)" class="e r">10.0</text>
<text transform="translate(34.5 260) scale(1 1.1)" class="e r">5.0</text>
<text transform="translate(34.5 293) scale(1 1.1)" class="e r">0.0</text>
<text transform="translate(34.5 325) scale(1 1.1)" class="e r">-5.0</text>
<text transform="translate(34.5 357) scale(1 1.1)" class="e r">-10.0</text>
<text transform="translate(25 51) scale(1 1.1)" class="m r">°C</text>
</g>
<g class="g">
<line x1="685" y1="352.5" x2="689" y2="352.5"/>
<line x1="685" y1="323.5" x2="689" y2="323.5"/>
<line x1="685" y1="294.5" x2="689" y2="294.5"/>
<line x1="685" y1="265.5" x2="689" y2="265.5"/>
<line x1="685" y1="236.5" x2="689" y2="236.5"/>
<line x1="685" y1="207.5" x2="689" y2="207.5"/>
<line x1="685" y1="178.5" x2="689" y2="178.5"/>
<line x1="685" y1="149.5" x2="689" y2="149.5"/>
<line x1="685" y1="120.5" x2="689" y2="120.5"/>
<line x1="685" y1="91.5" x2="689" y2="91.5"/>
<line x1="685" y1="62.5" x2="689" y2="62.5"/>
</g>
<g fill="#00ffff">
<text transform="translate(690 357) scale(1 1.1)" class="r">0</text>
<text transform="translate(690 328) scale(1 1.1)" class="r">10</text>
<text transform="translate(690 299) scale(1 1.1)" class="r">20</text>
<text transform="translate(690 270) scale(1 1.1)" class="r">30</text>
<text transform="translate(690 241) scale(1 1.1)" class="r">40</text>
<text transform="translate(690 212) scale(1 1.1)" class="r">50</text>
<text transform="translate(690 183) scale(1 1.1)" class="r">60</text>
<text transform="translate(690 154) scale(1 1.1)" class="r">70</text>
<text transform="translate(690 125) scale(1 1.1)" class="r">80</text>
<text transform="translate(690 96) scale(1 1.1)" class="r">90</text>
<text transform="translate(690 67) scale(1 1.1)" class="r">100</text>
<text transform="translate(685 51) scale(1 1.1)" class="r">%</text>
</g>
<g class="g">
<line x1="721.5" y1="62" x2="721.5" y2="353"/>
<line x1="717" y1="352.5" x2="726" y2="352.5"/>
<line x1="722" y1="335.5" x2="726" y2="335.5"/>
<line x1="722" y1="319.5" x2="726" y2="319.5"/>
<line x1="722" y1="302.5" x2="726" y2="302.5"/>
<line x1="722" y1="286.5" x2="726" y2="286.5"/>
<line x1="722" y1="269.5" x2="726" y2="269.5"/>
<line x1="722" y1="253.5" x2="726" y2="253.5"/>
<line x1="722" y1="236.5" x2="726" y2="236.5"/>
<line x1="722" y1="219.5" x2="726" y2="219.5"/>
<line x1="722" y1="203.5" x2="726" y2="203.5"/>
<line x1="722" y1="186.5" x2="726" y2="186.5"/>
<line x1="722" y1="170.5" x2="726" y2="170.5"/>
<line x1="722" y1="153.5" x2="726" y2="153.5"/>
<line x1="722" y1="137.5" x2="726" y2="137.5"/>
<line x1="722" y1="120.5" x2="726" y2="120.5"/>
<line x1="722" y1="103.5" x2="726" y2="103.5"/>
<line x1="722" y1="87.5" x2="726" y2="87.5"/>
<line x1="717" y1="70.5" x2="726" y2="70.5"/>
</g>
<g fill="#0000ff">
<text transform="translate(727.5 357) scale(1 1.1)" class="r">0.0</text>
<text transform="translate(727.5 340) scale(1 1.1)" class="r">2.0</text>
<text transform="translate(727.5 324) scale(1 1.1)" class="r">4.0</text>
<text transform="translate(727.5 307) scale(1 1.1)" class="r">6.0</text>
<text transform="translate(727.5 291) scale(1 1.1)" class="r">8.0</text>
<text transform="translate(727.5 274) scale(1 1.1)" class="r">10.0</text>
<text transform="translate(727.5 258) scale(1 1.1)" class="r">12.0</text>
<text transform="translate(727.5 241) scale(1 1.1)" class="r">14.0</text>
<text transform="translate(727.5 224) scale(1 1.1)" class="r">16.0</text>
<text transform="translate(727.5 208) scale(1 1.1)" class="r">18.0</text>
<text transform="translate(727.5 191) scale(1 1.1)" class="r">20.0</text>
<text transform="translate(727.5 175) scale(1 1.1)" class="r">22.0</text>
<text transform="translate(727.5 158) scale(1 1.1)" class="r">24.0</text>
<text transform="translate(727.5 142) scale(1 1.1)" class="r">26.0</text>
<text transform="translate(727.5 125) scale(1 1.1)" class="r">28.0</text>
<text transform="translate(727.5 108) scale(1 1.1)" class="r">30.0</text>
<text transform="translate(727.5 92) scale(1 1.1)" class="r">32.0</text>
<text transform="translate(727.5 75) scale(1 1.1)" class="r">34.0</text>
<text transform="translate(721 51) scale(1 1.1)" class="r">l/m²</text>
</g>
<g class="g">
<line x1="758.5" y1="62" x2="758.5" y2="353"/>
<line x1="754" y1="352.5" x2="763" y2="352.5"/>
<line x1="759" y1="333.5" x2="763" y2="333.5"/>
<line x1="759" y1="313.5" x2="763" y2="313.5"/>
<line x1="759" y1="294.5" x2="763" y2="294.5"/>
<line x1="759" y1="275.5" x2="763" y2="275.5"/>
<line x1="759" y1="255.5" x2="763" y2="255.5"/>
<line x1="759" y1="236.5" x2="763" y2="236.5"/>
<line x1="759" y1="217.5" x2="763" y2="217.5"/>
<line x1="759" y1="197.5" x2="763" y2="197.5"/>
<line x1="759" y1="178.5" x2="763" y2="178.5"/>
<line x1="759" y1="159.5" x2="763" y2="159.5"/>
<line x1="759" y1="139.5" x2="763" y2="139.5"/>
<line x1="759" y1="120.5" x2="763" y2="120.5"/>
<line x1="759" y1="101.5" x2="763" y2="101.5"/>
<line x1="759" y1="81.5" x2="763" y2="81.5"/>
<line x1="754" y1="62.5" x2="763" y2="62.5"/>
</g>
<g fill="#ff80ff">
<text transform="translate(764 357) scale(1 1.1)" class="r">0</text>
<text transform="translate(764 338) scale(1 1.1)" class="r">100</text>
<text transform="translate(764 318) scale(1 1.1)" class="r">200</text>
<text transform="translate(764 299) scale(1 1.1)" class="r">300</text>
<text transform="translate(764 280) scale(1 1.1)" class="r">400</text>
<text transform="translate(764 260) scale(1 1.1)" class="r">500</text>
<text transform="translate(764 241) scale(1 1.1)" class="r">600</text>
<text transform="translate(764 222) scale(1 1.1)" class="r">700</text>
<text transform="translate(764 202) scale(1 1.1)" class="r">800</text>
<text transform="translate(764 183) scale(1 1.1)" class="r">900</text>
<text transform="translate(764 164) scale(1 1.1)" class="r">1000</text>
<text transform="translate(764 144) scale(1 1.1)" class="r">1100</text>
<text transform="translate(764 125) scale(1 1.1)" class="r">1200</text>
<text transform="translate(764 106) scale(1 1.1)" class="r">1300</text>
<text transform="translate(764 86) scale(1 1.1)" class="r">1400</text>
<text transform="translate(764 67) scale(1 1.1)" class="r">1500</text>
<text transform="translate(758 51) scale(1 1.1)" class="r">W/m²</text>
</g>
<rect x="301" y="348" width="1" height="12" fill="#000"/>
<path d="M296 372h2v1h-1v1h-1zM307 372h-2v1h1v1h1zM296 383h2v-1h-1v-1h-1zM307 383h-2v-1h1v-1h1z" fill="#c8c8c8"/>
<path d="M299 373h5v1h1v1h1v5h-1v1h-1v1h-5v-1h-1v-1h-1v-5h1v-1h1z" fill="#e6e6e6"/>
<path d="M298 372.5h7M297 373.5h2m5 0h2M296 374.5h2m7 0h2M296 380.5h2m7 0h2M297 381.5h2m5 0h2M298 382.5h7M296.5 375v5M306.5 375v5" stroke="#000" stroke-width="1" fill="none"/>
<path d="M298 375.5h1m2 0h1m2 0h1M299 377.5h1m2 0h1M298 379.5h1m2 0h1m2 0h1M300 374.5h1m2 0h1M300 380.5h1m2 0h1" stroke="#c4c4c4" stroke-width="1"/>
<rect x="605" y="353" width="1" height="7" fill="#000"/>
<path d="M600 372h2v1h-1v1h-1zM611 372h-2v1h1v1h1zM600 383h2v-1h-1v-1h-1zM611 383h-2v-1h1v-1h1z" fill="#c8c8c8"/>
<circle cx="605.5" cy="377.5" r="4.6" fill="#000"/>
<path d="M603.5 374.5L602.5 375.5V379.5" fill="none" stroke="#fff" stroke-width="1" stroke-linecap="square"/>
<rect x="0" y="384" width="801" height="87" fill="#cdfaf6"/>
<rect x="801" y="383" width="1" height="88" fill="#808080"/>
<rect x="87" y="384" width="1" height="87" fill="#ffffff"/>
<rect x="88" y="383" width="1" height="88" fill="#808080"/>
<rect x="204" y="384" width="1" height="87" fill="#ffffff"/>
<rect x="205" y="383" width="1" height="88" fill="#808080"/>
<rect x="322" y="384" width="1" height="87" fill="#ffffff"/>
<rect x="323" y="383" width="1" height="88" fill="#808080"/>
<rect x="440" y="384" width="1" height="87" fill="#ffffff"/>
<rect x="441" y="383" width="1" height="88" fill="#808080"/>
<rect x="558" y="384" width="1" height="87" fill="#ffffff"/>
<rect x="559" y="383" width="1" height="88" fill="#808080"/>
<rect x="676" y="384" width="1" height="87" fill="#ffffff"/>
<rect x="677" y="383" width="1" height="88" fill="#808080"/>
<rect x="794" y="384" width="1" height="87" fill="#ffffff"/>
<rect x="795" y="383" width="1" height="88" fill="#808080"/>
<g fill="#000">
<text transform="translate(8.5 402) scale(1 1.1)" class="b">Sensor</text>
<text transform="translate(8.5 418) scale(1 1.1)" class="b">MinWert</text>
<text transform="translate(8.5 434) scale(1 1.1)" class="b">MaxWert</text>
<text transform="translate(8.5 450) scale(1 1.1)" class="b">Durchschnitt</text>
<text transform="translate(8.5 466) scale(1 1.1)" class="b" style="letter-spacing:1.0px">30.09.</text>
<text transform="translate(94.8 402) scale(1 1.1)" class="b">Temp. A.</text>
<text transform="translate(199 402) scale(1 1.1)" class="e b">°C</text>
<text transform="translate(95 418) scale(1 1.1)" class="r">30.09.  08:15</text>
<text transform="translate(198.5 418) scale(1 1.1)" class="e r">2.7</text>
<text transform="translate(95 434) scale(1 1.1)" class="r">05.09.  15:50</text>
<text transform="translate(198.5 434) scale(1 1.1)" class="e r">30.6</text>
<text transform="translate(198.5 450) scale(1 1.1)" class="e r">14.55</text>
<text transform="translate(199.2 466) scale(1 1.1)" class="e b" style="letter-spacing:1.0px">9.6</text>
<text transform="translate(212.2 402) scale(1 1.1)" class="b">Feuchte A.</text>
<text transform="translate(317 402) scale(1 1.1)" class="e b">%</text>
<text transform="translate(212 418) scale(1 1.1)" class="r">02.09.  13:45</text>
<text transform="translate(316.5 418) scale(1 1.1)" class="e r">32</text>
<text transform="translate(212 434) scale(1 1.1)" class="r">11.09.  08:35</text>
<text transform="translate(316.5 434) scale(1 1.1)" class="e r">95</text>
<text transform="translate(316.5 450) scale(1 1.1)" class="e r">79</text>
<text transform="translate(215 466) scale(1 1.1)" class="r">7.19 g/m³</text>
<text transform="translate(317.2 466) scale(1 1.1)" class="e b" style="letter-spacing:1.0px">78</text>
<text transform="translate(330.2 402) scale(1 1.1)" class="b">Luftdruck</text>
<text transform="translate(435 402) scale(1 1.1)" class="e b">hPa</text>
<text transform="translate(330 418) scale(1 1.1)" class="r">28.09.  04:40</text>
<text transform="translate(434.5 418) scale(1 1.1)" class="e r">996.4</text>
<text transform="translate(330 434) scale(1 1.1)" class="r">21.09.  10:40</text>
<text transform="translate(434.5 434) scale(1 1.1)" class="e r">1026.3</text>
<text transform="translate(434.5 450) scale(1 1.1)" class="e r">1013.1</text>
<text transform="translate(435.2 466) scale(1 1.1)" class="e b" style="letter-spacing:1.0px">1011.1</text>
<text transform="translate(447.8 402) scale(1 1.1)" class="b">Wind</text>
<text transform="translate(553 402) scale(1 1.1)" class="e b">km/h</text>
<text transform="translate(448 418) scale(1 1.1)" class="r">01.09.  00:10</text>
<text transform="translate(552.5 418) scale(1 1.1)" class="e r">0.0</text>
<text transform="translate(448 434) scale(1 1.1)" class="r">26.09.  15:40</text>
<rect x="507" y="424" width="45.5" height="13" fill="#cdfaf6"/>
<text transform="translate(552.5 434) scale(1 1.1)" class="e" style="letter-spacing:0.25px">SW 24.7</text>
<text transform="translate(448 450) scale(1 1.1)" class="r">2566.4 km</text>
<text transform="translate(552.5 450) scale(1 1.1)" class="e r">3.6</text>
<text transform="translate(454 466) scale(1 1.1)" class="r">1 Bft</text>
<text transform="translate(553.2 466) scale(1 1.1)" class="e b" style="letter-spacing:1.0px">1.3</text>
<text transform="translate(565.8 402) scale(1 1.1)" class="b">Windböen</text>
<text transform="translate(671 402) scale(1 1.1)" class="e b">km/h</text>
<text transform="translate(566 418) scale(1 1.1)" class="r">01.09.  00:10</text>
<text transform="translate(670.5 418) scale(1 1.1)" class="e r">0.0</text>
<text transform="translate(566 434) scale(1 1.1)" class="r">09.09.  13:40</text>
<rect x="613" y="424" width="57.5" height="13" fill="#cdfaf6"/>
<text transform="translate(670.5 434) scale(1 1.1)" class="e" style="letter-spacing:0.25px">W-SW 54.1</text>
<text transform="translate(670.5 450) scale(1 1.1)" class="e r">10.6</text>
<text transform="translate(572 466) scale(1 1.1)" class="r">1 Bft</text>
<text transform="translate(671.2 466) scale(1 1.1)" class="e b" style="letter-spacing:1.0px">4.8</text>
<text transform="translate(684.2 402) scale(1 1.1)" class="b">Regen</text>
<text transform="translate(789 402) scale(1 1.1)" class="e b">l/m²</text>
<text transform="translate(684 418) scale(1 1.1)" class="r">Regentage: 24</text>
<text transform="translate(684 434) scale(1 1.1)" class="r">14.09.  20:50</text>
<text transform="translate(788.5 434) scale(1 1.1)" class="e r">34.4</text>
<text transform="translate(684 450) scale(1 1.1)" class="r">Gesamt:</text>
<text transform="translate(788.5 450) scale(1 1.1)" class="e r">118.5</text>
<text transform="translate(687 466) scale(1 1.1)" class="r">118.5 l/m²</text>
<text transform="translate(789.2 466) scale(1 1.1)" class="e b" style="letter-spacing:1.0px">0.0</text>
</g>
</svg>
</body></html>
